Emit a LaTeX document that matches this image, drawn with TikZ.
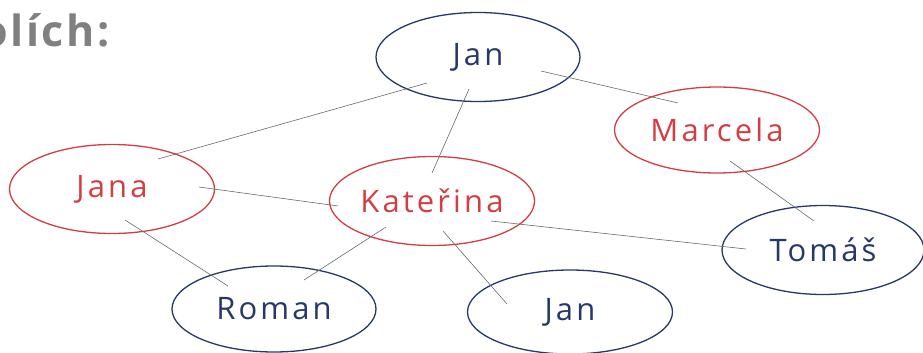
\documentclass[tikz,border=0pt]{standalone}
\usepackage{fontspec}
\setmainfont{Open Sans}
\usetikzlibrary{shapes.geometric}
\definecolor{penred}{RGB}{212,62,66}
\definecolor{penblue}{RGB}{38,56,104}
\definecolor{linegrey}{RGB}{105,105,105}
\definecolor{titlegrey}{RGB}{128,128,128}
\tikzset{
  bubble/.style={ellipse, draw, line width=1.3pt, inner sep=0pt, font=\fontsize{31}{34}\selectfont\addfontfeatures{LetterSpace=10}},
  redbubble/.style={bubble, draw=penred, text=penred},
  bluebubble/.style={bubble, draw=penblue, text=penblue},
  link/.style={draw=linegrey, line width=0.6pt},
}
\begin{document}
\begin{tikzpicture}[x=1pt,y=-1pt]
\useasboundingbox (0,0) rectangle (923,353);
\node[anchor=base east, inner sep=0pt, text=titlegrey, font=\fontsize{43}{45}\selectfont\bfseries\addfontfeatures{LetterSpace=6}] (title) at (110,47) {olích:};
\node[bluebubble, minimum width=204, minimum height=89] (jantop) at (478,57) {Jan};
\node[redbubble, minimum width=205, minimum height=89] (jana) at (112,189) {Jana};
\node[redbubble, minimum width=205, minimum height=89] (kat) at (432,201) {Kateřina};
\node[redbubble, minimum width=205, minimum height=86] (marc) at (717,130) {Marcela};
\node[bluebubble, minimum width=202, minimum height=89] (tom) at (823,250) {Tomáš};
\node[bluebubble, minimum width=205, minimum height=84] (janbot) at (570,312) {Jan};
\node[bluebubble, minimum width=204, minimum height=86] (roman) at (274,309) {Roman};
% line ends
\coordinate (a1) at (427,83);  \coordinate (a2) at (158,159);
\coordinate (b1) at (469,89);  \coordinate (b2) at (432,173);
\coordinate (c1) at (541,71);  \coordinate (c2) at (678,103);
\coordinate (d1) at (199,187); \coordinate (d2) at (338,206);
\coordinate (e1) at (125,220); \coordinate (e2) at (228,286);
\coordinate (f1) at (386,227); \coordinate (f2) at (304,280);
\coordinate (g1) at (443,231); \coordinate (g2) at (507,304);
\coordinate (h1) at (491,221); \coordinate (h2) at (746,249);
\coordinate (i1) at (730,161); \coordinate (i2) at (814,221);
\draw[link] (a1) -- (a2);
\draw[link] (b1) -- (b2);
\draw[link] (c1) -- (c2);
\draw[link] (d1) -- (d2);
\draw[link] (e1) -- (e2);
\draw[link] (f1) -- (f2);
\draw[link] (g1) -- (g2);
\draw[link] (h1) -- (h2);
\draw[link] (i1) -- (i2);
\end{tikzpicture}
\end{document}
